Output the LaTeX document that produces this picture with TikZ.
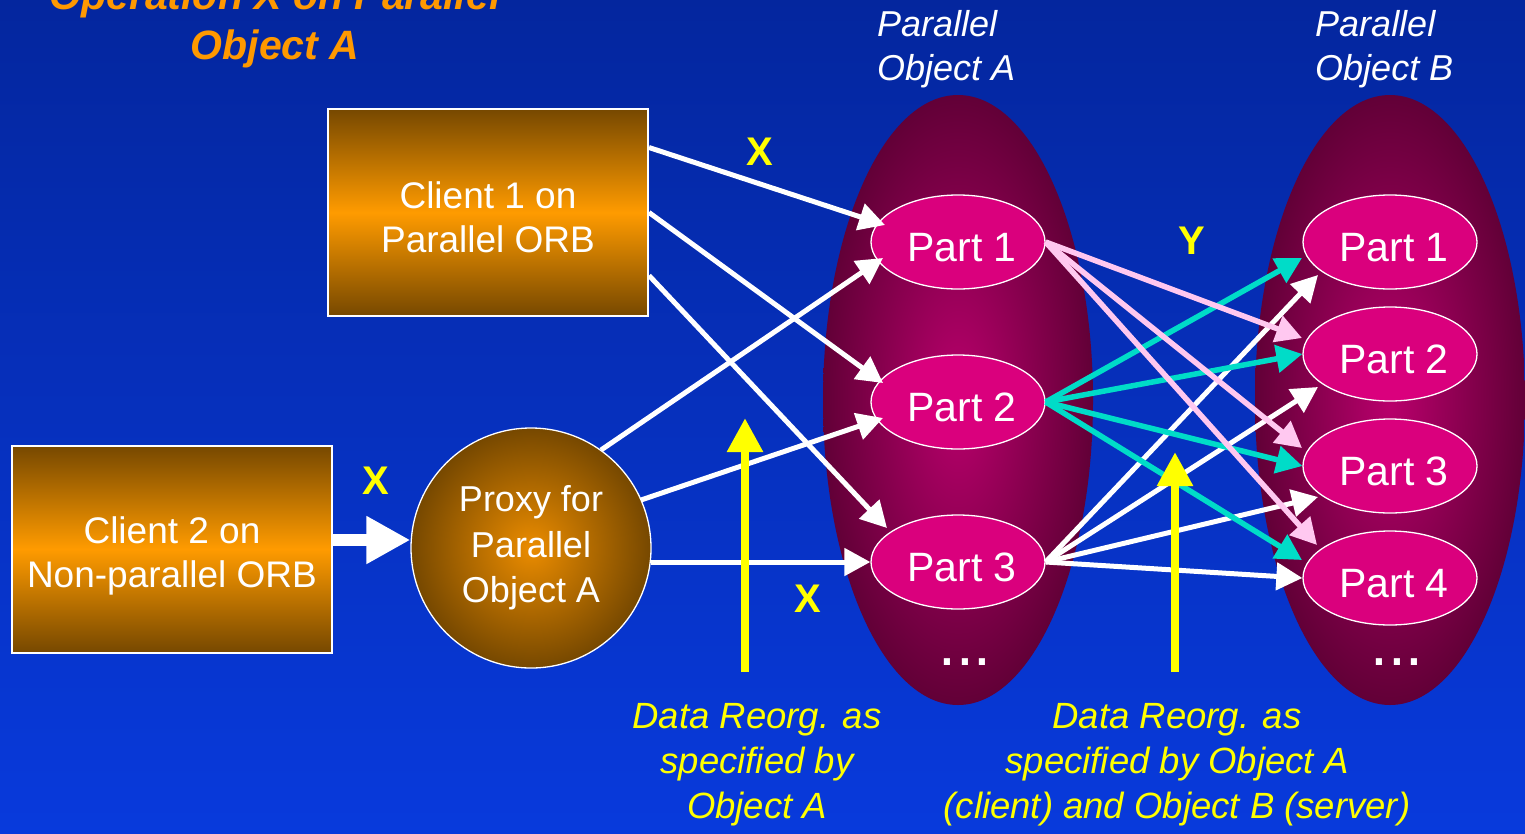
\documentclass[tikz,border=0pt]{standalone}
\usepackage{fontspec}
\setmainfont{Liberation Sans}
\usetikzlibrary{arrows.meta,shapes.geometric,calc}
\definecolor{bgtop}{RGB}{4,38,158}
\definecolor{bgbot}{RGB}{8,58,220}
\definecolor{ttl}{RGB}{255,153,0}
\definecolor{brn}{RGB}{118,72,0}
\definecolor{org}{RGB}{255,155,0}
\definecolor{proxin}{RGB}{235,140,0}
\definecolor{partc}{RGB}{218,0,125}
\definecolor{objin}{RGB}{185,0,108}
\definecolor{objout}{RGB}{98,0,55}
\definecolor{pinkc}{RGB}{255,200,240}
\definecolor{cyanc}{RGB}{0,220,200}
\definecolor{yelc}{RGB}{255,255,0}
\newcommand{\fsz}[2]{\fontsize{#1}{#2}\selectfont}
\newcommand{\ptxt}[1]{\hspace*{8pt}\rule{0pt}{39pt}#1}
\begin{document}
\begin{tikzpicture}[x=1pt,y=1pt,
  clientbox/.style={draw=white, line width=2pt, top color=brn, bottom color=brn, middle color=org, minimum width=320pt, minimum height=207pt, inner sep=0pt, text=white, align=center, font=\fsz{37}{44}},
  objell/.style={ellipse, minimum width=270pt, minimum height=610pt, inner sep=0pt, shading=radial, inner color=objin, outer color=objout},
  partell/.style={ellipse, draw=white, line width=1.3pt, fill=partc, minimum width=174pt, minimum height=94pt, inner sep=0pt, text=white, font=\fsz{41}{48}},
  objlabel/.style={anchor=west, inner sep=0pt, align=left, text=white, font=\fsz{36}{44}\itshape},
  oplabel/.style={text=yelc, font=\fsz{40}{48}\bfseries},
  reorgnote/.style={text=yelc, align=center, font=\fsz{36.5}{45}\itshape},
  ellipsisdots/.style={text=white, font=\fsz{64}{64}, anchor=base, inner sep=0pt},
  warr/.style={draw=white, line width=5pt, -{Triangle[length=26pt,width=27pt]}},
  parr/.style={draw=pinkc, line width=5.5pt, -{Triangle[length=26pt,width=27pt]}},
  carr/.style={draw=cyanc, line width=5.5pt, -{Triangle[length=26pt,width=27pt]}},
  yarr/.style={draw=yelc, line width=8.5pt, -{Triangle[length=34pt,width=34pt]}},
  bigarr/.style={draw=white, line width=12pt, -{Triangle[length=44pt,width=45pt]}},
]
\useasboundingbox (0,0) rectangle (1525,-833);
\clip (0,0) rectangle (1525,-833);
\fill[top color=bgtop, bottom color=bgbot] (0,0) rectangle (1525,-833);

% title
\node[text=ttl, align=center, font=\fsz{41}{50}\bfseries\itshape] (title) at (275,-24.3) {Operation X on Parallel\\Object A};

% parallel objects
\node[objell] (oa) at (958,-400) {};
\node[objell] (ob) at (1390,-400) {};
\node[objlabel] (oalab) at (877,-48.8) {Parallel\\Object A};
\node[objlabel] (oblab) at (1315,-48.8) {Parallel\\Object B};

% parts
\node[partell] (a1) at (958,-242) {\ptxt{Part 1}};
\node[partell] (a2) at (958,-402) {\ptxt{Part 2}};
\node[partell] (a3) at (958,-562) {\ptxt{Part 3}};
\node[partell] (b1) at (1390,-242) {\ptxt{Part 1}};
\node[partell] (b2) at (1390,-354) {\ptxt{Part 2}};
\node[partell] (b3) at (1390,-466) {\ptxt{Part 3}};
\node[partell] (b4) at (1390,-578) {\ptxt{Part 4}};
\node[ellipsisdots] (adots) at (965,-665) {...};
\node[ellipsisdots] (bdots) at (1397,-665) {...};

% clients and proxy
\node[clientbox] (c1) at (488,-212.5) {\rule{0pt}{35.5pt}Client 1 on\\Parallel ORB};
\node[clientbox] (c2) at (172,-549) {\rule{0pt}{41.5pt}Client 2 on\\Non-parallel ORB};
\node[circle, draw=white, line width=1.3pt, minimum size=240pt, inner sep=0pt, shading=radial, inner color=proxin, outer color=brn, text=white, align=center, font=\fsz{36}{45.5}] (p) at (531,-548) {Proxy for\\Parallel\\Object A};

% client 2 to proxy
\draw[bigarr] (c2.east |- p.center) ++(0,8) coordinate (c2out) (c2out) -- (c2out -| p.west);

% client 1 arrows
\draw[warr] ($(c1.east)+(0,65)$) -- ($(a1.center)+(-73,17)$);
\draw[warr] (c1.east) -- ($(a2.center)+(-75,19)$);
\draw[warr] ($(c1.east)+(0,-63)$) -- ($(a3.center)+(-71,34)$);

% proxy arrows
\draw[warr] ($(p.center)+(70,98)$) -- ($(a1.center)+(-75,-16)$);
\draw[warr] ($(p.center)+(110,48)$) -- ($(a2.center)+(-75,-16)$);
\draw[warr] ($(p.center)+(120,-14)$) -- (a3.west);

% A3 -> B (white)
\draw[warr] (a3.east) -- ($(b1.center)+(-72,-33)$);
\draw[warr] (a3.east) -- ($(b2.center)+(-72,-33)$);
\draw[warr] (a3.east) -- ($(b3.center)+(-72,-31)$);
\draw[warr] (a3.east) -- (b4.west);

% A2 -> B (cyan)
\draw[carr] (a2.east) -- ($(b1.center)+(-88,-16)$);
\draw[carr] (a2.east) -- (b2.west);
\draw[carr] (a2.east) -- (b3.west);
\draw[carr] (a2.east) -- ($(b4.center)+(-88,18)$);

% A1 -> B (pink)
\draw[parr] (a1.east) -- ($(b2.center)+(-88,16)$);
\draw[parr] (a1.east) -- ($(b3.center)+(-88,18)$);
\draw[parr] (a1.east) -- ($(b4.center)+(-73,33)$);

% labels
\node[oplabel] (x1) at (760,-152) {X};
\node[oplabel] (x2) at (376,-481) {X};
\node[oplabel] (x3) at (808,-599) {X};
\node[oplabel] (y1) at (1192,-241) {Y};

% yellow arrows
\coordinate (ya1) at (745,-672);
\coordinate (ya2) at (745,-418);
\coordinate (yb1) at (1175,-672);
\coordinate (yb2) at (1175,-452);
\draw[yarr] (ya1) -- (ya2);
\draw[yarr] (yb1) -- (yb2);

% notes
\node[reorgnote] (n1) at (757,-765) {Data Reorg. as\\specified by\\Object A};
\node[reorgnote] (n2) at (1177,-765) {Data Reorg. as\\specified by Object A\\(client) and Object B (server)};
\end{tikzpicture}
\end{document}
